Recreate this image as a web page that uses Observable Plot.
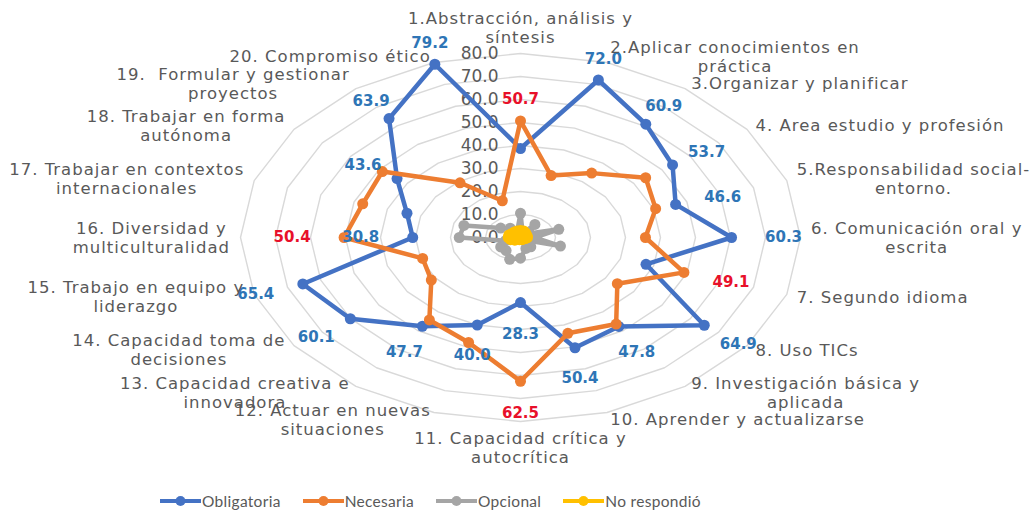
<!DOCTYPE html>
<html>
<head>
<meta charset="utf-8">
<script src="https://cdn.jsdelivr.net/npm/d3@7"></script>
<script src="https://cdn.jsdelivr.net/npm/@observablehq/plot@0.6"></script>
<style>
  html, body { margin: 0; padding: 0; background: #ffffff; }
  #wrap { position: relative; width: 1030px; height: 518px; overflow: hidden; background: #fff; }
  #legend { position: absolute; left: 160px; top: 488px; height: 26px; display: flex; align-items: center;
            font-family: "Lato", "Open Sans", sans-serif; font-size: 15.5px; color: #595959; letter-spacing: 0.3px; }
  #legend .item { display: flex; align-items: center; margin-right: 22px; }
  #legend svg { display: block; margin-right: 1px; }
</style>
</head>
<body>
<div id="wrap"><div id="chart"></div><div id="legend"></div></div>
<script>
// ---------- data ----------
const categories = [
  "1.Abstracción, análisis y\nsíntesis",
  "2.Aplicar conocimientos en\npráctica",
  "3.Organizar y planificar",
  "4. Area estudio y profesión",
  "5.Responsabilidad social-\nentorno.",
  "6. Comunicación oral y\nescrita",
  "7. Segundo idioma",
  "8. Uso TICs",
  "9. Investigación básica y\naplicada",
  "10. Aprender y actualizarse",
  "11. Capacidad crítica y\nautocrítica",
  "12. Actuar en nuevas\nsituaciones",
  "13. Capacidad creativa e\ninnovadora",
  "14. Capacidad toma de\ndecisiones",
  "15. Trabajo en equipo y\nliderazgo",
  "16. Diversidad y\nmulticulturalidad",
  "17. Trabajar en contextos\ninternacionales",
  "18. Trabajar en forma\nautónoma",
  "19.  Formular y gestionar\nproyectos",
  "20. Compromiso ético"
];
const seriesNames = ["Obligatoria", "Necesaria", "Opcional", "No respondió"];
const obligatoria = [38.7, 72.0, 60.9, 53.7, 46.6, 60.3, 37.7, 64.9, 47.8, 50.4, 28.3, 40.0, 47.7, 60.1, 65.4, 30.8, 34.1, 43.6, 63.9, 79.2];
const necesaria   = [50.7, 28.3, 34.6, 44.2, 40.6, 35.7, 49.1, 34.2, 46.5, 43.8, 62.5, 48.0, 44.3, 31.5, 29.4, 50.4, 47.4, 48.8, 29.4, 16.8];
const opcional    = [10.5, 2.0, 7.0, 3.0, 11.5, 4.0, 12.0, 2.0, 5.0, 5.0, 9.0, 10.0, 7.0, 7.0, 4.5, 17.5, 17.0, 7.0, 5.0, 3.0];
const noRespondio = [3.0, 3.0, 2.5, 2.0, 2.0, 2.0, 1.5, 1.0, 1.0, 1.0, 0.5, 1.0, 1.0, 2.0, 3.0, 3.5, 3.5, 3.0, 3.0, 3.0];
const ringValues = [10, 20, 30, 40, 50, 60, 70, 80];
const tickValues = [0, 10, 20, 30, 40, 50, 60, 70, 80];
const tickLabels = ["0.0", "10.0", "20.0", "30.0", "40.0", "50.0", "60.0", "70.0", "80.0"];
const obligatoriaLabeled = [2, 3, 4, 5, 6, 8, 9, 10, 11, 12, 13, 14, 15, 16, 18, 19, 20];
const necesariaLabeled = [1, 7, 11, 16];

// ---------- styles ----------
const colors = ["#4472C4", "#ED7D31", "#A5A5A5", "#FFC000"];
const labelColors = { "Obligatoria": "#2E75B6", "Necesaria": "#E8102A" };
const W = 1030, H = 486;
const xDomain = [-80, 80], xRange = [240, 800];
const yDomain = [-80, 80], yRange = [421, 53];
const sx = (xRange[1] - xRange[0]) / (xDomain[1] - xDomain[0]); // px per unit
const sy = (yRange[0] - yRange[1]) / (yDomain[1] - yDomain[0]);
const catFont = 16.5, catLineHeight = 1.16, catFamily = "DejaVu Sans", catSpacing = 1;
const labelRadius = 83;
const padPxX = 52, padPxTop = 22, padPxBottom = 32;

// ---------- derived ----------
const n = categories.length;
const ang = i => i * 2 * Math.PI / n;
const allSeries = [obligatoria, necesaria, opcional, noRespondio];
const seriesPts = allSeries.map((vals, s) => vals.map((v, i) => ({
  series: seriesNames[s], i, v,
  x: v * Math.sin(ang(i)), y: v * Math.cos(ang(i))
})));

const rings = ringValues.flatMap(r => d3.range(n).map(i => ({ ring: r, x: r * Math.sin(ang(i)), y: r * Math.cos(ang(i)) })));
const ticks = tickValues.map((v, k) => ({ x: 0, y: v, label: tickLabels[k] }));

function valueLabels(s, list) {
  return list.map(k => {
    const d = seriesPts[s][k - 1];
    const a = ang(k - 1);
    const si = Math.sin(a), co = Math.cos(a);
    const padY = co > 0 ? padPxTop : padPxBottom;
    return {
      x: d.x + (padPxX / sx) * si * Math.abs(si),
      y: d.y + (padY / sy) * co,
      text: d.v.toFixed(1), series: d.series
    };
  });
}
const oblLabels = valueLabels(0, obligatoriaLabeled);
const necLabels = valueLabels(1, necesariaLabeled);

const ctx = document.createElement("canvas").getContext("2d");
ctx.font = `${catFont}px "${catFamily}"`;
const catLabels = categories.map((c, i) => {
  const lines = c.split("\n");
  const w = d3.max(lines, l => ctx.measureText(l).width + catSpacing * l.length);
  const s = Math.sin(ang(i)), co = Math.cos(ang(i));
  let ax = labelRadius * s, ay = labelRadius * co;
  if (s > 0.01) ax += (w / 2) / sx;
  else if (s < -0.01) ax -= (w / 2) / sx;
  const blockH = lines.length * catFont * catLineHeight;
  if (co > 0.99) ay += (blockH / 2) / sy;
  else if (co < -0.99) ay -= (blockH / 2) / sy;
  return { x: ax, y: ay, text: c };
});

const marks = [
  Plot.line(rings, { x: "x", y: "y", z: "ring", curve: "linear-closed", stroke: "#D9D9D9", strokeWidth: 1.4 }),
  Plot.text(ticks, { x: "x", y: "y", text: "label", textAnchor: "end", dx: -22, fill: "#595959",
    fontSize: 17, fontFamily: "DejaVu Sans" })
];
seriesPts.forEach((pts, s) => {
  marks.push(Plot.line(pts, { x: "x", y: "y", curve: "linear-closed", stroke: colors[s], strokeWidth: 4.5, strokeLinejoin: "round" }));
  marks.push(Plot.dot(pts, { x: "x", y: "y", r: 5.5, fill: colors[s], stroke: "none" }));
});
marks.push(
  Plot.text(oblLabels, { x: "x", y: "y", text: "text", fill: labelColors["Obligatoria"], fontSize: 15, fontWeight: "bold", fontFamily: "DejaVu Sans" }),
  Plot.text(necLabels, { x: "x", y: "y", text: "text", fill: labelColors["Necesaria"], fontSize: 15, fontWeight: "bold", fontFamily: "DejaVu Sans" }),
  Plot.text(catLabels, { x: "x", y: "y", text: "text", textAnchor: "middle", lineAnchor: "middle", lineHeight: catLineHeight,
    fill: "#595959", fontSize: catFont, fontFamily: catFamily })
);

const chart = Plot.plot({
  width: W, height: H,
  margin: 0,
  x: { domain: xDomain, range: xRange, axis: null },
  y: { domain: yDomain, range: yRange, axis: null },
  style: { background: "#ffffff", overflow: "visible" },
  marks
});
// widen category labels with letter spacing (last text mark)
const textGroups = chart.querySelectorAll('g[aria-label="text"]');
if (textGroups.length) textGroups[textGroups.length - 1].setAttribute("letter-spacing", catSpacing);
document.getElementById("chart").appendChild(chart);

// ---------- legend ----------
const legend = document.getElementById("legend");
seriesNames.forEach((name, s) => {
  const item = document.createElement("div");
  item.className = "item";
  const sw = d3.create("svg").attr("width", 41).attr("height", 12);
  sw.append("line").attr("x1", 0).attr("x2", 41).attr("y1", 6).attr("y2", 6).attr("stroke", colors[s]).attr("stroke-width", 4);
  sw.append("circle").attr("cx", 20.5).attr("cy", 6).attr("r", 5).attr("fill", colors[s]);
  item.appendChild(sw.node());
  const t = document.createElement("span");
  t.textContent = name;
  item.appendChild(t);
  legend.appendChild(item);
});
</script>
</body>
</html>
